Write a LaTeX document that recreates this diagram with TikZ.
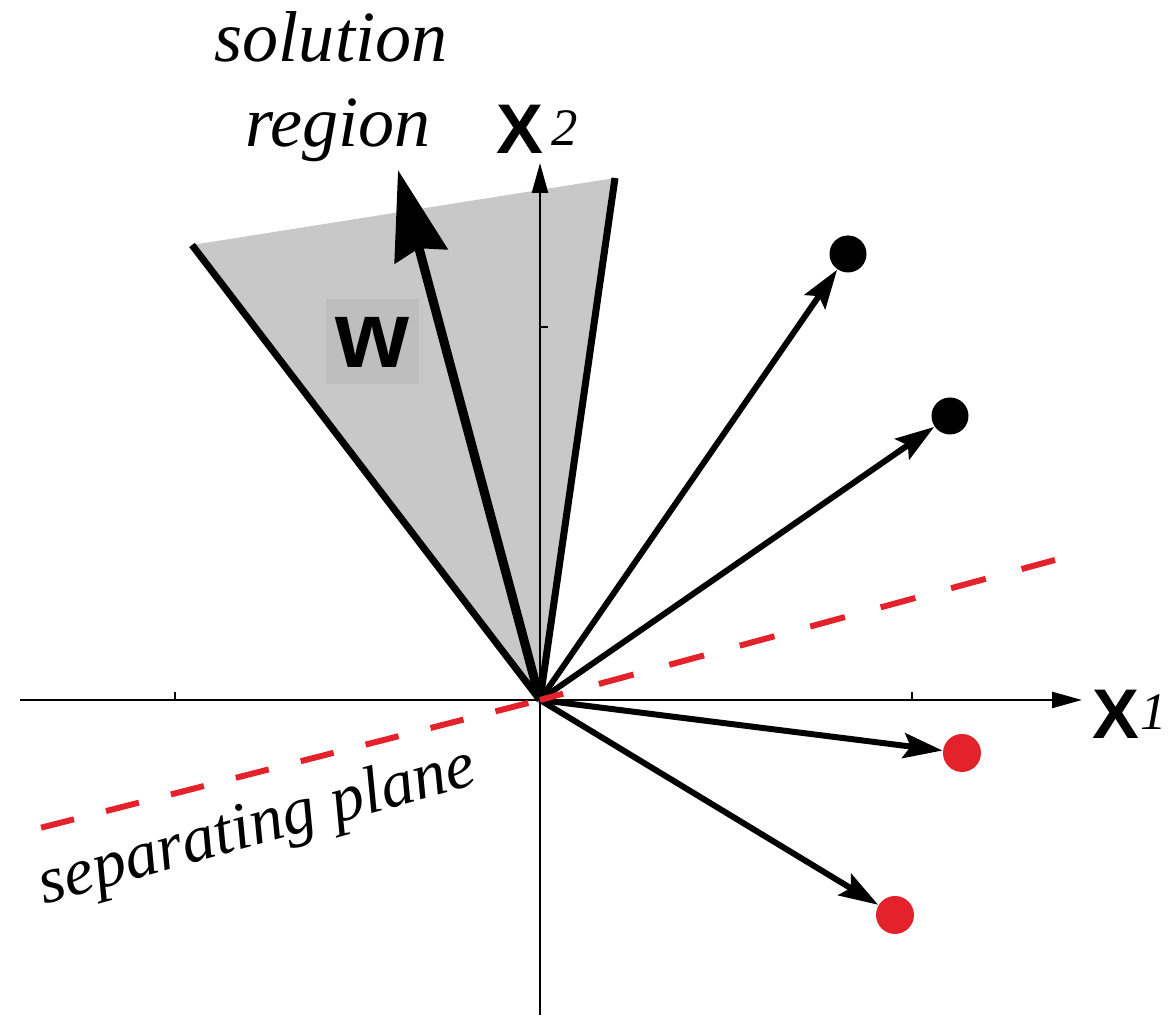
\documentclass[tikz,border=0pt]{standalone}
\usepackage{fontspec}
\setsansfont{Liberation Sans}
\newfontfamily\capfont{Liberation Serif}
\usetikzlibrary{arrows.meta,positioning}
\definecolor{region}{HTML}{C8C8C8}
\definecolor{wbox}{HTML}{BEBEBE}
\definecolor{sepred}{HTML}{E3222B}
\tikzset{axisarrow/.style={-{Triangle[length=3mm,width=1.6mm]},line width=0.7pt},
 vecarrow/.style={-{Stealth[length=3.9mm,width=2.5mm,inset=0.7mm]},line width=1.7pt},
 warrow/.style={-{Stealth[length=8.9mm,width=5.4mm,inset=0.8mm]},line width=2.6pt},
 regionedge/.style={line width=2pt},
 blackdot/.style={circle,fill=black,inner sep=0pt,minimum size=3.7mm},
 reddot/.style={circle,fill=sepred,inner sep=0pt,minimum size=3.8mm},
 sepright/.style={draw=sepred,line width=1.7pt,dash pattern=on 3.6mm off 3.7mm,dash phase=1.2mm},
 sepleft/.style={draw=sepred,line width=1.7pt,dash pattern=on 3.4mm off 3.3mm,dash phase=5.5mm},
 axisname/.style={font=\fontsize{20}{24}\selectfont\sffamily\bfseries,inner sep=0pt},
 axisindex/.style={font=\fontsize{15}{18}\selectfont\capfont\itshape,inner sep=0pt},
 caption/.style={font=\fontsize{20.5}{24}\selectfont\capfont\itshape,inner sep=0pt}}
\begin{document}
\begin{tikzpicture}
\useasboundingbox (0,0) rectangle (11.68,10.20);
\coordinate (o) at (5.40,3.20);
\coordinate (rl) at (1.92,7.75);
\coordinate (rr) at (6.15,8.42);
\coordinate (wtip) at (3.98,8.50);
\coordinate (xa) at (0.20,3.20);
\coordinate (xb) at (10.82,3.20);
\coordinate (ya) at (5.40,0.05);
\coordinate (yb) at (5.40,8.57);
\coordinate (sl) at (0.40,1.92);
\coordinate (sr) at (10.55,4.60);
% solution region
\fill[region] (o) -- (rl) -- (rr) -- cycle;
\draw[regionedge] (rl) -- (o);
\draw[regionedge] (rr) -- (o);
\node[fill=wbox,minimum width=9.3mm,minimum height=8.5mm,inner sep=0pt,
 font=\fontsize{27}{30}\selectfont\sffamily\bfseries] (wlab) at (3.72,6.78) {w};
% axes
\draw[axisarrow] (xa) -- (xb);
\draw[axisarrow] (ya) -- (yb);
\draw[line width=0.7pt] (1.75,3.20) -- (1.75,3.28) (9.12,3.20) -- (9.12,3.28) (5.40,6.93) -- (5.48,6.93);
\node[axisname] (x1) at (11.16,3.06) {X};
\node[axisindex] (x1i) at (11.54,3.08) {1};
\node[axisname] (x2) at (5.20,8.91) {X};
\node[axisindex] (x2i) at (5.65,8.92) {2};
% samples
\node[blackdot] (p1) at (8.48,7.66) {};
\node[blackdot] (p2) at (9.50,6.04) {};
\node[reddot] (n1) at (9.62,2.67) {};
\node[reddot] (n2) at (8.95,1.05) {};
\draw[vecarrow] (o) -- (p1);
\draw[vecarrow] (o) -- (p2);
\draw[vecarrow] (o) -- (n1);
\draw[vecarrow] (o) -- (n2);
\draw[warrow] (o) -- (wtip);
% separating plane
\draw[sepleft] (o) -- (sl);
\draw[sepright] (o) -- (sr);
\node[caption,anchor=base] (sol) at (3.31,9.58) {solution};
\node[caption,anchor=base] (reg) at (3.38,8.73) {region};
\node[caption,font=\fontsize{19}{22}\selectfont\capfont\itshape,rotate=15.5,anchor=base] (sep) at (2.62,1.76) {separating plane};
\end{tikzpicture}
\end{document}
